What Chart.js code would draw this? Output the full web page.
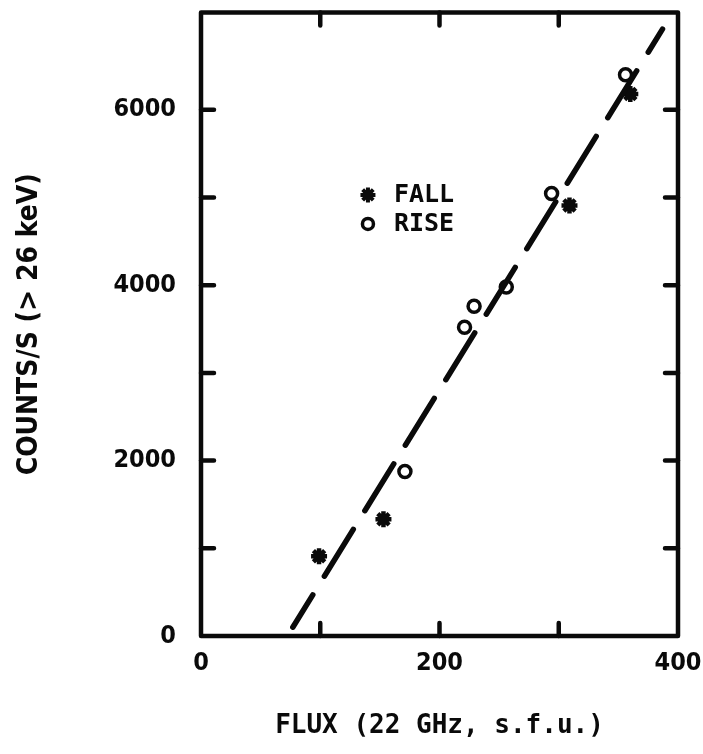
<!DOCTYPE html>
<html>
<head>
<meta charset="utf-8">
<script src="https://cdn.jsdelivr.net/npm/chart.js@4.4.1/dist/chart.umd.min.js"></script>
<style>
  html, body { margin: 0; padding: 0; background: #ffffff; }
  #wrap { width: 703px; height: 754px; position: relative; }
</style>
</head>
<body>
<div id="wrap"><canvas id="c"></canvas></div>
<script>
// ---- data ----
const fallFlux   = [99, 153, 309, 360];
const fallCounts = [910, 1330, 4910, 6180];
const riseFlux   = [171, 221, 229, 256, 294, 356];
const riseCounts = [1875, 3520, 3760, 3980, 5045, 6400];
const fitFlux    = [77, 387];
const fitCounts  = [100, 6920];
const xTickLabels = [0, 200, 400];
const xMinorTicks = [100, 200, 300];
const yTickLabels = [0, 2000, 4000, 6000];
const yMinorTicks = [1000, 2000, 3000, 4000, 5000, 6000];
const seriesNames = ['FALL', 'RISE'];
const xTitle = 'FLUX (22 GHz, s.f.u.)';
const yTitle = 'COUNTS/S (> 26 keV)';
const legendAnchor = { x: 140, y: 5030 };

const INK = '#0a0a0a';
const MONO = { family: "'DejaVu Sans Mono', 'Liberation Mono', monospace", size: 25, weight: 'bold', lineHeight: 1.2 };
const XTITLE = { family: "'DejaVu Sans Mono', 'Liberation Mono', monospace", size: 26, weight: 'bold', lineHeight: 1.2 };
const COND = { family: "'DejaVu Sans Condensed', 'DejaVu Sans', sans-serif", size: 25, weight: 'bold', lineHeight: 1.2 };
const YTITLE = { family: "'DejaVu Sans Condensed', 'DejaVu Sans', sans-serif", size: 28, weight: 'bold', lineHeight: 1.2 };

const pts = (xs, ys) => xs.map((v, i) => ({ x: v, y: ys[i] }));

function drawStar(ctx, cx, cy, r) {
  ctx.beginPath();
  for (let k = 0; k < 4; k++) {
    const a = k * Math.PI / 4;
    ctx.moveTo(cx - r * Math.cos(a), cy - r * Math.sin(a));
    ctx.lineTo(cx + r * Math.cos(a), cy + r * Math.sin(a));
  }
  ctx.stroke();
}

const framePlugin = {
  id: 'frame',
  afterDatasetsDraw(chart) {
    const { ctx, chartArea: { left, right, top, bottom }, scales: { x, y } } = chart;
    ctx.save();
    ctx.strokeStyle = INK;
    ctx.lineWidth = 4.5;
    ctx.lineCap = 'round';
    ctx.lineJoin = 'round';
    ctx.strokeRect(left, top, right - left, bottom - top);
    const L = 13;
    ctx.beginPath();
    xMinorTicks.forEach(v => {
      const px = x.getPixelForValue(v);
      ctx.moveTo(px, bottom); ctx.lineTo(px, bottom - L);
      ctx.moveTo(px, top); ctx.lineTo(px, top + L);
    });
    yMinorTicks.forEach(v => {
      const py = y.getPixelForValue(v);
      ctx.moveTo(left, py); ctx.lineTo(left + L, py);
      ctx.moveTo(right, py); ctx.lineTo(right - L, py);
    });
    ctx.stroke();

    // legend
    const lx = x.getPixelForValue(legendAnchor.x);
    const ly = y.getPixelForValue(legendAnchor.y);
    ctx.lineWidth = 4;
    ctx.lineCap = 'butt';
    drawStar(ctx, lx, ly, 7.5);
    ctx.lineWidth = 3.5;
    ctx.beginPath();
    ctx.arc(lx, ly + 29, 5.5, 0, Math.PI * 2);
    ctx.stroke();
    ctx.fillStyle = INK;
    ctx.font = `bold ${MONO.size}px ${MONO.family}`;
    ctx.textAlign = 'left';
    ctx.textBaseline = 'middle';
    ctx.fillText(seriesNames[0], lx + 26, ly + 1);
    ctx.fillText(seriesNames[1], lx + 26, ly + 30);
    ctx.restore();
  }
};

new Chart(document.getElementById('c'), {
  type: 'scatter',
  data: {
    datasets: [
      {
        label: 'fit',
        type: 'line',
        data: pts(fitFlux, fitCounts),
        borderColor: INK,
        borderWidth: 5.5,
        borderDash: [55, 22],
        borderDashOffset: 17,
        borderCapStyle: 'round',
        pointRadius: 0,
        fill: false,
        tension: 0
      },
      {
        label: seriesNames[0],
        data: pts(fallFlux, fallCounts),
        pointStyle: 'star',
        pointRadius: 8,
        borderWidth: 4.5,
        borderColor: INK,
        backgroundColor: INK
      },
      {
        label: seriesNames[1],
        data: pts(riseFlux, riseCounts),
        pointStyle: 'circle',
        pointRadius: 6,
        borderWidth: 3.5,
        borderColor: INK,
        backgroundColor: 'rgba(0,0,0,0)'
      }
    ]
  },
  options: {
    responsive: true,
    maintainAspectRatio: false,
    animation: false,
    events: [],
    layout: { padding: { top: 10, right: 25, bottom: 0, left: 0 } },
    plugins: { legend: { display: false }, tooltip: { enabled: false } },
    scales: {
      x: {
        type: 'linear',
        min: 0,
        max: 400,
        afterBuildTicks: s => { s.ticks = xTickLabels.map(v => ({ value: v })); },
        afterFit: s => { s.height = 118; s.paddingLeft = 0; s.paddingRight = 0; },
        grid: { display: false, drawTicks: false },
        border: { display: false },
        ticks: { color: INK, font: COND, padding: 12, maxRotation: 0, autoSkip: false, callback: v => String(v) },
        title: { display: true, text: xTitle, color: INK, font: XTITLE, padding: { top: 0, bottom: 12 } }
      },
      y: {
        type: 'linear',
        min: 0,
        max: 7110,
        afterBuildTicks: s => { s.ticks = yTickLabels.map(v => ({ value: v })); },
        afterFit: s => { s.width = 201; s.paddingTop = 0; s.paddingBottom = 0; },
        grid: { display: false, drawTicks: false },
        border: { display: false },
        ticks: { color: INK, font: COND, padding: 25, autoSkip: false, callback: v => String(v) },
        title: { display: true, text: yTitle, color: INK, font: YTITLE, padding: { top: 13, bottom: 0 } }
      }
    }
  },
  plugins: [framePlugin]
});
</script>
</body>
</html>
